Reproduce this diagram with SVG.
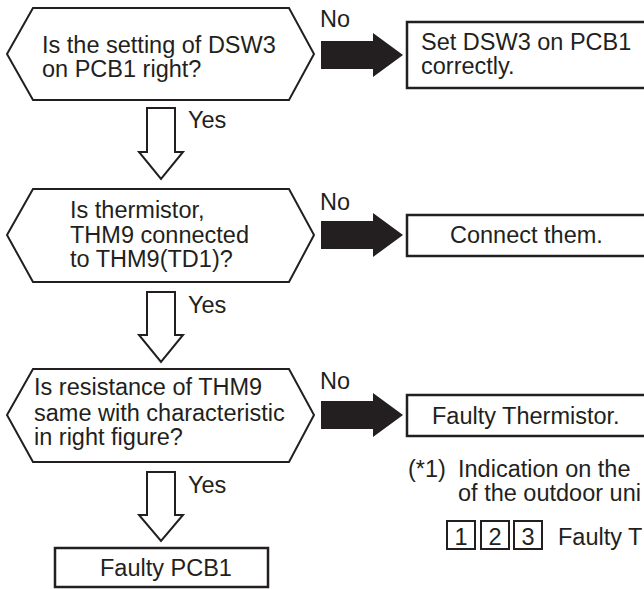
<svg xmlns="http://www.w3.org/2000/svg" width="644" height="589" viewBox="0 0 644 589">
<style>
text{font-family:"Liberation Sans",Arial,sans-serif;font-size:23.5px;fill:#231f20}
.hex{fill:#fff;stroke:#231f20;stroke-width:2}
.box{fill:#fff;stroke:#231f20;stroke-width:2.5}
.down{fill:#fff;stroke:#231f20;stroke-width:2;stroke-linejoin:miter}
.right{fill:#231f20;stroke:none}
.sq{fill:#fff;stroke:#231f20;stroke-width:2}
</style>
<rect width="644" height="589" fill="#fff"/>
<g id="q1">
<polygon class="hex" points="7,54 33,8 289,8 314,54 289,100 33,100"/>
<text x="42" y="53">Is the setting of DSW3</text>
<text x="42" y="77">on PCB1 right?</text>
</g>
<g id="a1">
<rect class="box" x="407" y="22" width="250" height="66"/>
<text x="421" y="50">Set DSW3 on PCB1</text>
<text x="421" y="74">correctly.</text>
</g>
<g id="q2">
<polygon class="hex" points="7,235 33,189 289,189 314,235 289,282 33,282"/>
<text x="70" y="218">Is thermistor,</text>
<text x="70" y="243">THM9 connected</text>
<text x="70" y="267">to THM9(TD1)?</text>
</g>
<g id="a2">
<rect class="box" x="407" y="215" width="250" height="41"/>
<text x="450" y="243">Connect them.</text>
</g>
<g id="q3">
<polygon class="hex" points="7,415 33,369 289,369 314,415 289,462 33,462"/>
<text x="34" y="395">Is resistance of THM9</text>
<text x="34" y="421">same with characteristic</text>
<text x="34" y="445">in right figure?</text>
</g>
<g id="a3">
<rect class="box" x="407" y="395" width="250" height="41"/>
<text x="432" y="424">Faulty Thermistor.</text>
</g>
<g id="r1">
<rect class="box" x="55" y="548" width="213" height="39"/>
<text x="100" y="576">Faulty PCB1</text>
</g>
<g id="note">
<text x="408" y="477">(*1)</text>
<text x="458" y="477">Indication on the</text>
<text x="458" y="501">of the outdoor uni</text>
<rect class="sq" x="447" y="521" width="28" height="28"/>
<rect class="sq" x="481" y="521" width="28" height="28"/>
<rect class="sq" x="514" y="521" width="28" height="28"/>
<text x="461" y="545" text-anchor="middle">1</text>
<text x="495" y="545" text-anchor="middle">2</text>
<text x="528" y="545" text-anchor="middle">3</text>
<text x="558" y="545">Faulty T</text>
</g>
<g id="connectors">
<polygon class="down" points="147,108 175,108 175,152 183,152 161,179 139,152 147,152"/>
<polygon class="down" points="147,292 175,292 175,335 183,335 161,362 139,335 147,335"/>
<polygon class="down" points="147,472 175,472 175,515 183,515 161,541 139,515 147,515"/>
<polygon class="right" points="321,41 373,41 373,33 403,55 373,77 373,69 321,69"/>
<polygon class="right" points="321,221 373,221 373,213 403,235 373,257 373,249 321,249"/>
<polygon class="right" points="321,401 373,401 373,393 403,415 373,437 373,429 321,429"/>
<text x="320" y="27">No</text>
<text x="320" y="210">No</text>
<text x="320" y="389">No</text>
<text x="188" y="128">Yes</text>
<text x="188" y="313">Yes</text>
<text x="188" y="493">Yes</text>
</g>
</svg>
